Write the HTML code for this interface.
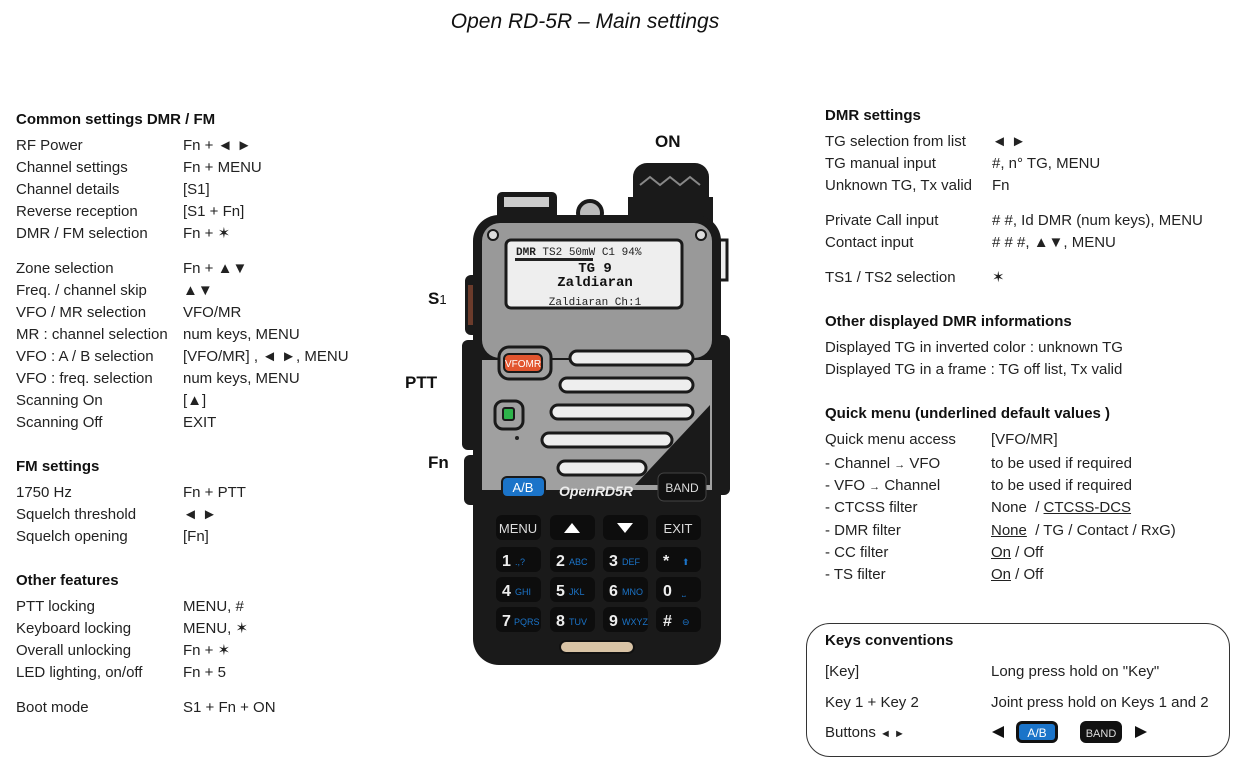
<!DOCTYPE html>
<html><head><meta charset="utf-8">
<style>
body{margin:0;width:1246px;height:770px;background:#fff;position:relative;overflow:hidden;font-family:"Liberation Sans",sans-serif;color:#222}
.t{position:absolute;font-size:15px;line-height:18px;white-space:nowrap}
.h{font-weight:bold;color:#111}
u{text-decoration:underline}
.box{position:absolute;left:806px;top:623px;width:422px;height:132px;border:1.5px solid #333;border-radius:24px}
</style></head><body>
<div class="t" style="left:0;width:1170px;text-align:center;top:10px;font-size:21px;line-height:24px;font-style:italic;color:#111">Open RD-5R – Main settings</div>

<div>
<div class="t h" style="left:16px;top:111px">Common settings DMR / FM</div>
<div class="t" style="left:16px;top:137px">RF Power</div><div class="t" style="left:183px;top:137px">Fn + ◄ ►</div>
<div class="t" style="left:16px;top:159px">Channel settings</div><div class="t" style="left:183px;top:159px">Fn + MENU</div>
<div class="t" style="left:16px;top:181px">Channel details</div><div class="t" style="left:183px;top:181px">[S1]</div>
<div class="t" style="left:16px;top:203px">Reverse reception</div><div class="t" style="left:183px;top:203px">[S1 + Fn]</div>
<div class="t" style="left:16px;top:225px">DMR / FM selection</div><div class="t" style="left:183px;top:225px">Fn + ✶</div>
<div class="t" style="left:16px;top:260px">Zone selection</div><div class="t" style="left:183px;top:260px">Fn + ▲▼</div>
<div class="t" style="left:16px;top:282px">Freq. / channel skip</div><div class="t" style="left:183px;top:282px">▲▼</div>
<div class="t" style="left:16px;top:304px">VFO / MR selection</div><div class="t" style="left:183px;top:304px">VFO/MR</div>
<div class="t" style="left:16px;top:326px">MR : channel selection</div><div class="t" style="left:183px;top:326px">num keys, MENU</div>
<div class="t" style="left:16px;top:348px">VFO : A / B selection</div><div class="t" style="left:183px;top:348px">[VFO/MR] , ◄ ►, MENU</div>
<div class="t" style="left:16px;top:370px">VFO : freq. selection</div><div class="t" style="left:183px;top:370px">num keys, MENU</div>
<div class="t" style="left:16px;top:392px">Scanning On</div><div class="t" style="left:183px;top:392px">[▲]</div>
<div class="t" style="left:16px;top:414px">Scanning Off</div><div class="t" style="left:183px;top:414px">EXIT</div>
</div>

<div>
<div class="t h" style="left:16px;top:458px">FM settings</div>
<div class="t" style="left:16px;top:484px">1750 Hz</div><div class="t" style="left:183px;top:484px">Fn + PTT</div>
<div class="t" style="left:16px;top:506px">Squelch threshold</div><div class="t" style="left:183px;top:506px">◄ ►</div>
<div class="t" style="left:16px;top:528px">Squelch opening</div><div class="t" style="left:183px;top:528px">[Fn]</div>
</div>

<div>
<div class="t h" style="left:16px;top:572px">Other features</div>
<div class="t" style="left:16px;top:598px">PTT locking</div><div class="t" style="left:183px;top:598px">MENU, #</div>
<div class="t" style="left:16px;top:620px">Keyboard locking</div><div class="t" style="left:183px;top:620px">MENU, ✶</div>
<div class="t" style="left:16px;top:642px">Overall unlocking</div><div class="t" style="left:183px;top:642px">Fn + ✶</div>
<div class="t" style="left:16px;top:664px">LED lighting, on/off</div><div class="t" style="left:183px;top:664px">Fn + 5</div>
<div class="t" style="left:16px;top:699px">Boot mode</div><div class="t" style="left:183px;top:699px">S1 + Fn + ON</div>
</div>

<div>
<div class="t h" style="left:825px;top:107px">DMR settings</div>
<div class="t" style="left:825px;top:133px">TG selection from list</div><div class="t" style="left:992px;top:133px">◄ ►</div>
<div class="t" style="left:825px;top:155px">TG manual input</div><div class="t" style="left:992px;top:155px">#, n° TG, MENU</div>
<div class="t" style="left:825px;top:177px">Unknown TG, Tx valid</div><div class="t" style="left:992px;top:177px">Fn</div>
<div class="t" style="left:825px;top:212px">Private Call input</div><div class="t" style="left:992px;top:212px"># #, Id DMR (num keys), MENU</div>
<div class="t" style="left:825px;top:234px">Contact input</div><div class="t" style="left:992px;top:234px"># # #, ▲▼, MENU</div>
<div class="t" style="left:825px;top:269px">TS1 / TS2 selection</div><div class="t" style="left:992px;top:269px">✶</div>
</div>

<div>
<div class="t h" style="left:825px;top:313px">Other displayed DMR informations</div>
<div class="t" style="left:825px;top:339px">Displayed TG in inverted color : unknown TG</div>
<div class="t" style="left:825px;top:361px">Displayed TG in a frame : TG off list, Tx valid</div>
</div>

<div>
<div class="t h" style="left:825px;top:405px">Quick menu (underlined default values )</div>
<div class="t" style="left:825px;top:431px">Quick menu access</div><div class="t" style="left:991px;top:431px">[VFO/MR]</div>
<div class="t" style="left:825px;top:455px">- Channel <span style="font-size:11px">→</span> VFO</div><div class="t" style="left:991px;top:455px">to be used if required</div>
<div class="t" style="left:825px;top:477px">- VFO <span style="font-size:11px">→</span> Channel</div><div class="t" style="left:991px;top:477px">to be used if required</div>
<div class="t" style="left:825px;top:499px">- CTCSS filter</div><div class="t" style="left:991px;top:499px">None &nbsp;/ <u>CTCSS-DCS</u></div>
<div class="t" style="left:825px;top:522px">- DMR filter</div><div class="t" style="left:991px;top:522px"><u>None</u> &nbsp;/ TG / Contact / RxG)</div>
<div class="t" style="left:825px;top:544px">- CC filter</div><div class="t" style="left:991px;top:544px"><u>On</u> / Off</div>
<div class="t" style="left:825px;top:566px">- TS filter</div><div class="t" style="left:991px;top:566px"><u>On</u> / Off</div>
</div>

<div class="box"></div>
<div class="t h" style="left:825px;top:632px">Keys conventions</div>
<div class="t" style="left:825px;top:663px">[Key]</div><div class="t" style="left:991px;top:663px">Long press hold on "Key"</div>
<div class="t" style="left:825px;top:694px">Key 1 + Key 2</div><div class="t" style="left:991px;top:694px">Joint press hold on Keys 1 and 2</div>
<div class="t" style="left:825px;top:724px">Buttons <span style="font-size:11px">◄ ►</span></div>
<svg style="position:absolute;left:985px;top:718px" width="170" height="30">
<polygon points="7,14 19,8 19,20" fill="#111"/>
<rect x="31" y="3" width="42" height="22" rx="6" fill="#111"/><rect x="34" y="6" width="36" height="16" rx="3" fill="#1b74c9"/>
<text x="52" y="19" font-size="12" fill="#fff" text-anchor="middle" font-family="Liberation Sans">A/B</text>
<rect x="95" y="3" width="42" height="22" rx="6" fill="#111"/>
<text x="116" y="19" font-size="11" fill="#ddd" text-anchor="middle" font-family="Liberation Sans">BAND</text>
<polygon points="150,8 162,14 150,20" fill="#111"/>
</svg>

<div class="t h" style="left:655px;top:133px;font-size:17px">ON</div>
<div class="t h" style="left:428px;top:290px;font-size:17px">S<span style="font-size:13px;font-weight:normal">1</span></div>
<div class="t h" style="left:405px;top:374px;font-size:17px">PTT</div>
<div class="t h" style="left:428px;top:454px;font-size:17px">Fn</div>

<svg style="position:absolute;left:460px;top:155px" width="280" height="515" font-family="Liberation Sans">
<!-- knob -->
<rect x="173" y="8" width="76" height="55" rx="14" fill="#1a1a1a"/>
<polyline points="180,30 190,22 200,30 210,22 220,30 230,22 240,30" fill="none" stroke="#888" stroke-width="2"/>
<rect x="168" y="42" width="85" height="35" fill="#1a1a1a"/>
<!-- left top bump -->
<rect x="37" y="37" width="60" height="40" rx="5" fill="#1a1a1a"/><rect x="44" y="42" width="45" height="10" fill="#ccc"/>
<circle cx="130" cy="58" r="12" fill="#bbb" stroke="#1a1a1a" stroke-width="4"/>
<!-- side bumps -->
<rect x="5" y="120" width="18" height="60" rx="6" fill="#1a1a1a"/><rect x="8" y="130" width="9" height="40" fill="#6b3b2b"/>
<rect x="2" y="185" width="22" height="110" rx="6" fill="#1a1a1a"/>
<rect x="4" y="300" width="20" height="50" rx="6" fill="#1a1a1a"/>
<rect x="252" y="85" width="15" height="40" fill="#eee" stroke="#1a1a1a" stroke-width="3"/>
<rect x="250" y="180" width="20" height="160" rx="6" fill="#1a1a1a"/>
<!-- body -->
<rect x="13" y="60" width="248" height="450" rx="26" fill="#1a1a1a"/>
<rect x="22" y="68" width="230" height="135" rx="18" fill="#999"/>
<rect x="22" y="205" width="230" height="130" fill="#a0a0a0"/>
<polygon points="175,330 250,250 250,330" fill="#1a1a1a"/>
<circle cx="33" cy="80" r="5" fill="#ddd" stroke="#1a1a1a" stroke-width="2"/>
<circle cx="241" cy="80" r="5" fill="#ddd" stroke="#1a1a1a" stroke-width="2"/>
<!-- screen -->
<rect x="46" y="85" width="176" height="68" rx="5" fill="#eee" stroke="#1a1a1a" stroke-width="3"/>
<text x="56" y="100" font-size="11" font-family="Liberation Mono" fill="#222"><tspan font-weight="bold">DMR</tspan> TS2 50mW C1  94%</text>
<rect x="55" y="103" width="78" height="3" fill="#222"/>
<text x="135" y="117" font-size="14" font-weight="bold" font-family="Liberation Mono" text-anchor="middle" fill="#111">TG 9</text>
<text x="135" y="131" font-size="14" font-weight="bold" font-family="Liberation Mono" text-anchor="middle" fill="#111">Zaldiaran</text>
<text x="135" y="150" font-size="11" font-family="Liberation Mono" text-anchor="middle" fill="#222">Zaldiaran Ch:1</text>
<!-- speaker bars -->
<rect x="39" y="192" width="52" height="32" rx="10" fill="#a0a0a0" stroke="#1a1a1a" stroke-width="3"/>
<rect x="44" y="199" width="38" height="18" rx="5" fill="#e2552f" stroke="#1a1a1a" stroke-width="2"/>
<text x="63" y="212" font-size="10" fill="#fff" text-anchor="middle">VFOMR</text>
<rect x="35" y="246" width="28" height="28" rx="8" fill="#a0a0a0" stroke="#1a1a1a" stroke-width="3"/>
<rect x="43" y="253" width="11" height="12" rx="2" fill="#2db34a" stroke="#1a1a1a" stroke-width="2"/>
<circle cx="57" cy="283" r="2" fill="#222"/>
<rect x="110" y="196" width="123" height="14" rx="7" fill="#eee" stroke="#1a1a1a" stroke-width="3"/>
<rect x="100" y="223" width="133" height="14" rx="7" fill="#eee" stroke="#1a1a1a" stroke-width="3"/>
<rect x="91" y="250" width="142" height="14" rx="7" fill="#eee" stroke="#1a1a1a" stroke-width="3"/>
<rect x="82" y="278" width="130" height="14" rx="7" fill="#eee" stroke="#1a1a1a" stroke-width="3"/>
<rect x="98" y="306" width="88" height="14" rx="7" fill="#eee" stroke="#1a1a1a" stroke-width="3"/>
<rect x="41" y="321" width="45" height="22" rx="6" fill="#1a1a1a"/><rect x="43" y="323" width="41" height="18" rx="4" fill="#1b74c9"/>
<text x="63" y="337" font-size="13" fill="#fff" text-anchor="middle">A/B</text>
<text x="136" y="341" font-size="14" font-weight="bold" font-style="italic" fill="#eee" text-anchor="middle">OpenRD5R</text>
<rect x="198" y="318" width="48" height="28" rx="6" fill="#111" stroke="#444"/>
<text x="222" y="337" font-size="12" fill="#ddd" text-anchor="middle">BAND</text>
<!-- keypad -->
<g fill="#0d0d0d">
<rect x="36" y="360" width="45" height="25" rx="6"/><rect x="90" y="360" width="45" height="25" rx="6"/><rect x="143" y="360" width="45" height="25" rx="6"/><rect x="196" y="360" width="45" height="25" rx="6"/>
<rect x="36" y="392" width="45" height="25" rx="6"/><rect x="90" y="392" width="45" height="25" rx="6"/><rect x="143" y="392" width="45" height="25" rx="6"/><rect x="196" y="392" width="45" height="25" rx="6"/>
<rect x="36" y="422" width="45" height="25" rx="6"/><rect x="90" y="422" width="45" height="25" rx="6"/><rect x="143" y="422" width="45" height="25" rx="6"/><rect x="196" y="422" width="45" height="25" rx="6"/>
<rect x="36" y="452" width="45" height="25" rx="6"/><rect x="90" y="452" width="45" height="25" rx="6"/><rect x="143" y="452" width="45" height="25" rx="6"/><rect x="196" y="452" width="45" height="25" rx="6"/>
</g>
<text x="58" y="378" font-size="13" fill="#ddd" text-anchor="middle">MENU</text>
<polygon points="104,378 112,368 120,378" fill="#fff"/><polygon points="157,368 173,368 165,378" fill="#fff"/>
<text x="218" y="378" font-size="13" fill="#ddd" text-anchor="middle">EXIT</text>
<g font-size="16" font-weight="bold" fill="#eee">
<text x="42" y="411">1</text><text x="96" y="411">2</text><text x="149" y="411">3</text><text x="203" y="411">*</text>
<text x="42" y="441">4</text><text x="96" y="441">5</text><text x="149" y="441">6</text><text x="203" y="441">0</text>
<text x="42" y="471">7</text><text x="96" y="471">8</text><text x="149" y="471">9</text><text x="203" y="471">#</text>
</g>
<g font-size="9" fill="#1b74c9">
<text x="55" y="410">.,?</text><text x="109" y="410">ABC</text><text x="162" y="410">DEF</text><text x="222" y="410">⬆</text>
<text x="55" y="440">GHI</text><text x="109" y="440">JKL</text><text x="162" y="440">MNO</text><text x="222" y="440">⎵</text>
<text x="54" y="470">PQRS</text><text x="109" y="470">TUV</text><text x="162" y="470">WXYZ</text><text x="222" y="470">⊖</text>
</g>
<rect x="100" y="486" width="74" height="12" rx="6" fill="#d8c3a5" stroke="#111" stroke-width="2"/>
</svg>
</body></html>
